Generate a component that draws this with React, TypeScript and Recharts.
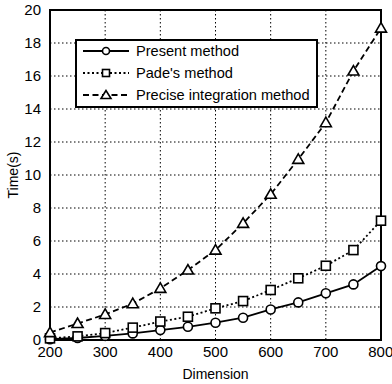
import React from "react"
import { LineChart, Line, XAxis, YAxis, CartesianGrid, ReferenceArea } from "recharts"

const dimensions = [200, 250, 300, 350, 400, 450, 500, 550, 600, 650, 700, 750, 800]
const presentTimes = [0.05, 0.12, 0.25, 0.4, 0.6, 0.8, 1.05, 1.35, 1.85, 2.28, 2.83, 3.37, 4.48]
const padeTimes = [0.1, 0.22, 0.42, 0.75, 1.12, 1.41, 1.92, 2.36, 3.03, 3.74, 4.5, 5.45, 7.23]
const preciseTimes = [0.45, 1.0, 1.55, 2.2, 3.13, 4.24, 5.45, 7.07, 8.83, 10.95, 13.17, 16.3, 18.9]
const xTicks = [200, 300, 400, 500, 600, 700, 800]
const yTicks = [0, 2, 4, 6, 8, 10, 12, 14, 16, 18, 20]

const seriesNames = ["Present method", "Pade's method", "Precise integration method"]

const data = dimensions.map((d, i) => ({
  dim: d,
  present: presentTimes[i],
  pade: padeTimes[i],
  precise: preciseTimes[i],
}))

const font = "'Liberation Sans', Arial, sans-serif"

const CircleDot = (props: any) => {
  const { cx, cy } = props
  if (cx == null || cy == null) return null
  return <circle cx={cx} cy={cy} r={4.5} fill="white" stroke="black" strokeWidth={1.6} />
}

const SquareDot = (props: any) => {
  const { cx, cy } = props
  if (cx == null || cy == null) return null
  return <rect x={cx - 4.5} y={cy - 4.5} width={9} height={9} fill="white" stroke="black" strokeWidth={1.6} />
}

const TriangleDot = (props: any) => {
  const { cx, cy } = props
  if (cx == null || cy == null) return null
  return (
    <polygon
      points={`${cx},${cy - 5.5} ${cx - 5.5},${cy + 4} ${cx + 5.5},${cy + 4}`}
      fill="white"
      stroke="black"
      strokeWidth={1.6}
    />
  )
}

const LegendBox = () => {
  const rows = [
    { dash: undefined, marker: "circle" },
    { dash: "2 2.5", marker: "square" },
    { dash: "6 3.5", marker: "triangle" },
  ]
  return (
    <svg width={243} height={69} style={{ display: "block" }}>
      <rect x={1} y={1} width={241} height={67} fill="white" stroke="black" strokeWidth={2} />
      {rows.map((r, i) => {
        const y = 12 + i * 22
        const mx = 31
        return (
          <g key={i}>
            <line x1={8} x2={54} y1={y} y2={y} stroke="black" strokeWidth={1.8} strokeDasharray={r.dash} />
            {r.marker === "circle" && <circle cx={mx} cy={y} r={3.5} fill="white" stroke="black" strokeWidth={1.6} />}
            {r.marker === "square" && (
              <rect x={mx - 3.5} y={y - 3.5} width={7} height={7} fill="white" stroke="black" strokeWidth={1.6} />
            )}
            {r.marker === "triangle" && (
              <polygon
                points={`${mx},${y - 4.5} ${mx - 5},${y + 3.5} ${mx + 5},${y + 3.5}`}
                fill="white"
                stroke="black"
                strokeWidth={1.6}
              />
            )}
            <text x={61} y={y + 5} fontSize={14.6} fontFamily={font} fill="black">
              {seriesNames[i]}
            </text>
          </g>
        )
      })}
    </svg>
  )
}

export default function App() {
  return (
    <div style={{ position: "absolute", left: 0, top: 0, width: 392, height: 384, background: "white" }}>
      <LineChart width={392} height={384} data={data} margin={{ top: 10, right: 11, left: 0, bottom: 0 }}>
        <CartesianGrid stroke="black" strokeDasharray="1.5 2.5" strokeWidth={1} />
        <XAxis
          dataKey="dim"
          type="number"
          domain={[200, 800]}
          ticks={xTicks}
          height={44}
          tickLine={false}
          axisLine={{ stroke: "black", strokeWidth: 2 }}
          tick={{ fill: "black", fontSize: 15, fontFamily: font }}
          tickMargin={0}
          label={{ value: "Dimension", position: "insideBottom", offset: 5, fill: "black", fontSize: 14, fontFamily: font }}
        />
        <YAxis
          type="number"
          domain={[0, 20]}
          ticks={yTicks}
          width={50}
          tickLine={false}
          axisLine={{ stroke: "black", strokeWidth: 2 }}
          tick={{ fill: "black", fontSize: 15, fontFamily: font }}
          tickMargin={3}
          interval={0}
          label={{ value: "Time(s)", angle: -90, position: "insideLeft", offset: 13, fill: "black", fontSize: 14, fontFamily: font, style: { textAnchor: "middle" } }}
        />
        <ReferenceArea x1={200} x2={800} y1={0} y2={20} fill="none" stroke="black" strokeWidth={2} ifOverflow="visible" />
        <Line dataKey="present" stroke="black" strokeWidth={1.8} dot={<CircleDot />} isAnimationActive={false} />
        <Line dataKey="pade" stroke="black" strokeWidth={1.8} strokeDasharray="2 2.5" dot={<SquareDot />} isAnimationActive={false} />
        <Line dataKey="precise" stroke="black" strokeWidth={1.8} strokeDasharray="6 3.5" dot={<TriangleDot />} isAnimationActive={false} />
      </LineChart>
      <div style={{ position: "absolute", left: 75, top: 39 }}>
        <LegendBox />
      </div>
    </div>
  )
}
